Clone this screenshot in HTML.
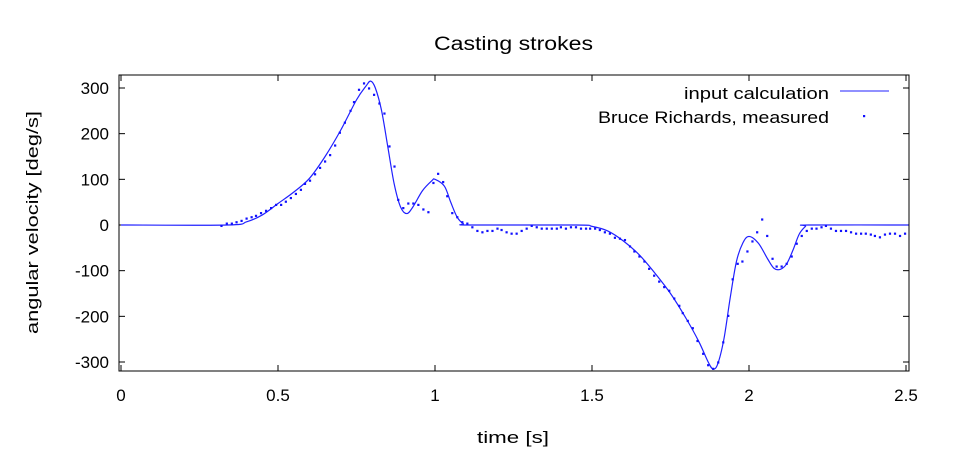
<!DOCTYPE html>
<html><head><meta charset="utf-8"><style>
html,body{margin:0;padding:0;background:#fff;}
svg{display:block;font-family:"Liberation Sans","DejaVu Sans",sans-serif;}
</style></head><body>
<svg id="chart" width="954" height="456" viewBox="0 0 954 456" xmlns="http://www.w3.org/2000/svg">
<rect x="0" y="0" width="954" height="456" fill="#fff"/>
<text x="434" y="50" font-size="19" textLength="159" lengthAdjust="spacingAndGlyphs" fill="#000">Casting strokes</text>
<g id="axes"></g>
<g id="series"></g>
<rect x="119" y="75" width="790" height="296" fill="none" stroke="#000" stroke-width="1"/>
<text transform="translate(38,334) rotate(-90)" font-size="17" textLength="223" lengthAdjust="spacingAndGlyphs" fill="#000">angular velocity [deg/s]</text>
<text x="477" y="443" font-size="17" textLength="72" lengthAdjust="spacingAndGlyphs" fill="#000">time [s]</text>
<g>
<text x="684" y="99" font-size="17" textLength="145" lengthAdjust="spacingAndGlyphs" fill="#000">input calculation</text>
<line x1="840" y1="91" x2="889" y2="91" stroke="#2020ff" stroke-width="1"/>
<text x="598" y="123" font-size="17" textLength="231" lengthAdjust="spacingAndGlyphs" fill="#000">Bruce Richards, measured</text>
<rect x="863" y="115" width="2.2" height="2.2" fill="#1010ff"/>
</g>
</svg>
<script>
const xTicks=[0,0.5,1,1.5,2,2.5];
const xTickLabels=["0","0.5","1","1.5","2","2.5"];
const yTicks=[300,200,100,0,-100,-200,-300];
const yTickLabels=["300","200","100","0","-100","-200","-300"];
const calcT=[0,0.34,0.4,0.45,0.5,0.55,0.6,0.65,0.7,0.75,0.78,0.795,0.81,0.83,0.85,0.87,0.89,0.91,0.93,0.96,0.99,1.0,1.03,1.05,1.07,1.09,1.11,1.45,1.5,1.55,1.6,1.65,1.7,1.75,1.8,1.84,1.87,1.885,1.9,1.92,1.94,1.96,1.98,2.0,2.03,2.06,2.08,2.1,2.12,2.14,2.16,2.18,2.19,2.51];
const calcV=[0,0,7,22,47,72,102,150,208,274,304,315,300,250,170,90,40,25,40,75,97,100,85,50,18,3,0,0,-3,-13,-35,-65,-105,-150,-205,-255,-300,-315,-305,-250,-160,-80,-40,-25,-40,-75,-95,-97,-85,-55,-20,-3,0,0];
const measT=[0.32,0.337,0.353,0.368,0.384,0.4,0.416,0.43,0.446,0.462,0.478,0.494,0.51,0.525,0.541,0.557,0.573,0.586,0.602,0.618,0.634,0.65,0.666,0.682,0.697,0.713,0.731,0.742,0.758,0.774,0.79,0.806,0.823,0.839,0.855,0.871,0.883,0.899,0.915,0.931,0.947,0.963,0.979,0.995,1.01,1.026,1.039,1.055,1.071,1.087,1.103,1.119,1.135,1.151,1.167,1.183,1.199,1.212,1.228,1.244,1.26,1.276,1.292,1.308,1.324,1.34,1.356,1.372,1.388,1.401,1.417,1.433,1.449,1.465,1.481,1.494,1.51,1.525,1.541,1.557,1.573,1.589,1.605,1.621,1.635,1.651,1.667,1.682,1.698,1.714,1.73,1.746,1.762,1.778,1.789,1.805,1.821,1.836,1.854,1.87,1.886,1.902,1.918,1.934,1.948,1.964,1.979,1.995,2.011,2.026,2.042,2.058,2.075,2.088,2.104,2.12,2.136,2.152,2.168,2.184,2.2,2.215,2.231,2.245,2.261,2.277,2.293,2.309,2.325,2.341,2.357,2.372,2.388,2.401,2.417,2.433,2.449,2.465,2.481,2.497];
const measV=[-2,3,3,6,9,14,17,20,26,31,37,44,44,51,59,68,77,90,97,111,125,139,153,174,202,224,250,269,296,310,299,285,266,244,172,128,55,37,47,47,44,34,28,92,112,94,63,26,17,6,3,-5,-13,-16,-13,-13,-8,-11,-16,-19,-19,-13,-8,-2,-5,-8,-8,-8,-8,-5,-8,-5,-5,-8,-8,-8,-8,-11,-16,-19,-28,-30,-33,-47,-58,-69,-80,-96,-111,-124,-136,-144,-161,-177,-193,-210,-226,-254,-282,-307,-315,-301,-257,-199,-119,-85,-80,-58,-36,-16,12,-24,-74,-91,-91,-85,-69,-41,-24,-13,-8,-8,-5,-2,-8,-13,-13,-13,-16,-19,-19,-19,-21,-24,-27,-21,-19,-19,-24,-19];

const NS="http://www.w3.org/2000/svg";
const X0=121,XS=314,Y0=225,YS=0.4567;
function xs(t){return X0+t*XS;}
function ys(v){return Y0-v*YS;}
const axes=document.getElementById('axes');
const series=document.getElementById('series');
function mk(tag,attrs,parent){const e=document.createElementNS(NS,tag);for(const k in attrs)e.setAttribute(k,attrs[k]);parent.appendChild(e);return e;}
xTicks.forEach((t,i)=>{
  const x=xs(t);
  const a=mk('line',{x1:x,y1:371,x2:x,y2:365,stroke:'#000'},axes);
  
  
  const b=mk('line',{x1:x,y1:75,x2:x,y2:81,stroke:'#000'},axes);
  
  
  const l=mk('text',{x:x,y:401,'font-size':17,'text-anchor':'middle',fill:'#000'},axes);
  l.textContent=xTickLabels[i];
  
  
});
yTicks.forEach((v,i)=>{
  const y=ys(v);
  const a=mk('line',{x1:119,y1:y,x2:125,y2:y,stroke:'#000'},axes);
  
  
  const b=mk('line',{x1:909,y1:y,x2:903,y2:y,stroke:'#000'},axes);
  
  
  const l=mk('text',{x:109,y:y+6,'font-size':17,'text-anchor':'end',fill:'#000'},axes);
  l.textContent=yTickLabels[i];
  
  
});
const P=calcT.map((t,i)=>[xs(t),ys(calcV[i])]);
let d='M'+P[0][0]+','+P[0][1];
for(let i=0;i<P.length-1;i++){
  const p0=P[Math.max(0,i-1)],p1=P[i],p2=P[i+1],p3=P[Math.min(P.length-1,i+2)];
  const c1=[p1[0]+(p2[0]-p0[0])/6,p1[1]+(p2[1]-p0[1])/6];
  const c2=[p2[0]-(p3[0]-p1[0])/6,p2[1]-(p3[1]-p1[1])/6];
  d+=' C'+c1[0]+','+c1[1]+' '+c2[0]+','+c2[1]+' '+p2[0]+','+p2[1];
}
const path=mk('path',{d:d,fill:'none',stroke:'#2020ff','stroke-width':1.2},series);


measT.forEach((t,i)=>{
  const r=mk('rect',{x:xs(t)-1.1,y:ys(measV[i])-1.1,width:2.2,height:2.2,fill:'#1010ff'},series);
  
  
});
</script>
</body></html>
